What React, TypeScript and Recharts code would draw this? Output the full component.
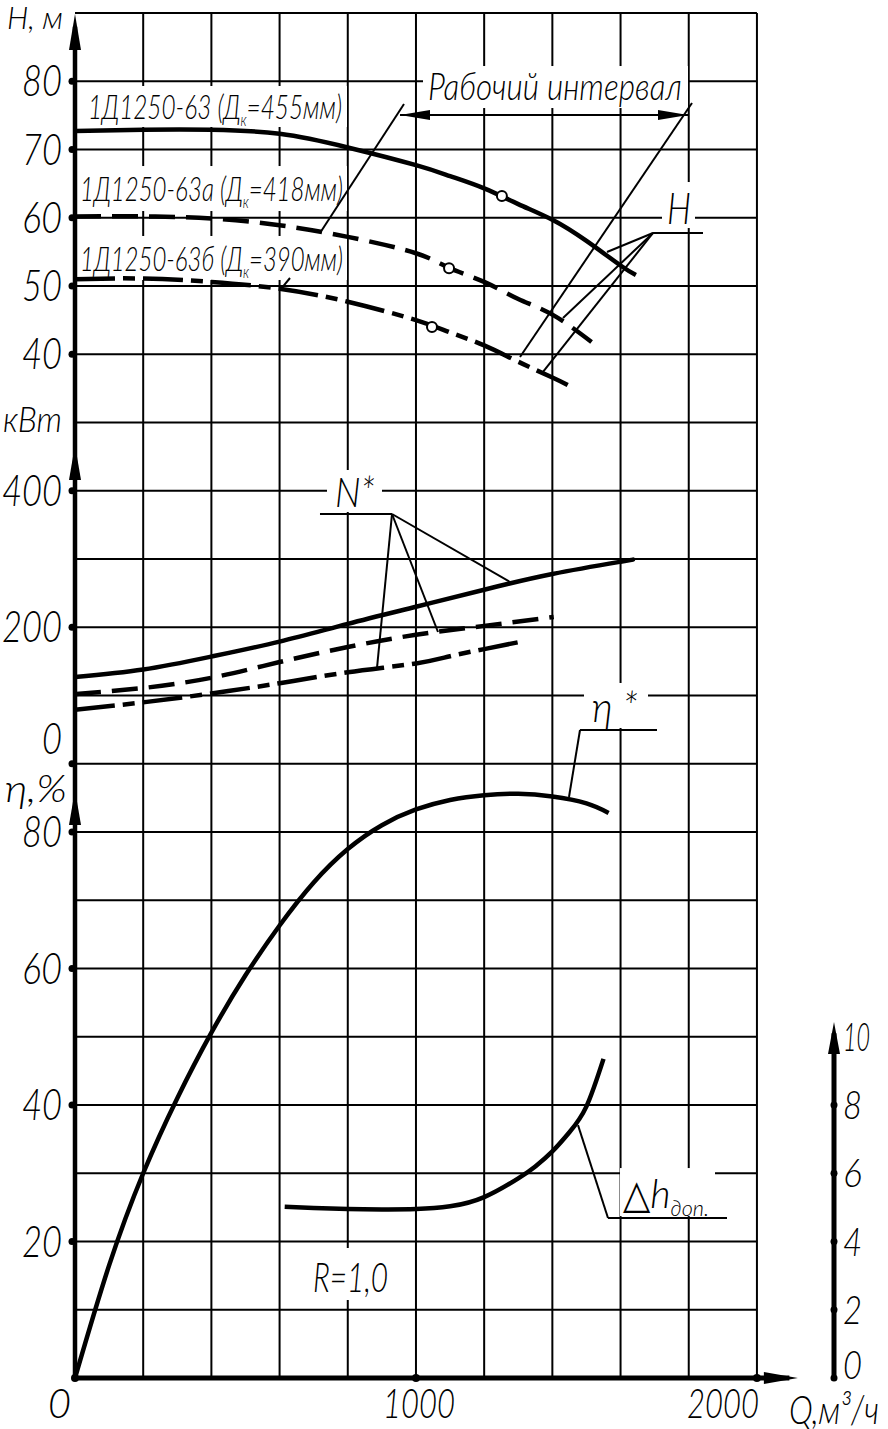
import React from 'react';
import { ComposedChart, Line, Scatter, XAxis, YAxis, ReferenceLine, ReferenceDot } from 'recharts';

const FONT = "Lato, 'DejaVu Sans Condensed', 'Liberation Sans', sans-serif";

// ось подачи, м3/ч
const Q_MAX = 2226;
const Q_TICKS = [0, 1000, 2000];
const H_TICKS = [40, 50, 60, 70, 80];
const N_TICKS = [0, 200, 400];
const ETA_TICKS = [20, 40, 60, 80];
const DH_TICKS = [0, 2, 4, 6, 8, 10];

// напор H, м
const Q_H455 = [0, 200, 400, 600, 800, 1000, 1100, 1200, 1300, 1400, 1500, 1600, 1645];
const H_455 = [72.7, 72.9, 72.9, 72.3, 70.3, 67.7, 66.1, 64.3, 62.0, 59.7, 56.6, 53.0, 51.6];
const Q_H418 = [0, 200, 400, 600, 800, 1000, 1100, 1200, 1300, 1400, 1515];
const H_418 = [60.2, 60.2, 59.9, 58.9, 57.2, 54.8, 52.6, 50.6, 48.1, 45.8, 41.8];
const Q_H390 = [0, 200, 400, 600, 800, 1000, 1100, 1200, 1300, 1400, 1445];
const H_390 = [51.0, 51.1, 50.6, 49.6, 47.7, 45.0, 43.2, 41.3, 38.9, 36.6, 35.5];
const Q_RATED = [1252, 1097, 1047];
const H_RATED = [63.2, 52.6, 44.0];

// мощность N, кВт
const Q_N455 = [0, 200, 400, 600, 800, 1000, 1200, 1400, 1600, 1635];
const N_455 = [127, 138, 157, 179, 205, 230, 255, 278, 296, 299];
const Q_N418 = [0, 200, 400, 600, 800, 1000, 1200, 1404];
const N_418 = [102, 111, 126, 149, 171, 189, 202, 215];
const Q_N390 = [0, 200, 400, 600, 800, 1000, 1100, 1200, 1300];
const N_390 = [79, 90, 103, 118, 134, 147, 157.5, 168, 178];

// КПД, %
const Q_ETA = [0, 100, 200, 300, 400, 500, 600, 700, 800, 900, 1000, 1100, 1200, 1300, 1400, 1500, 1565];
const ETA = [0, 16.5, 30, 41, 50.6, 59, 66.3, 72.6, 77.5, 81, 83.3, 84.7, 85.4, 85.6, 85.2, 84.2, 82.8];

// допустимый кавитационный запас, м
const Q_DH = [615, 700, 800, 900, 1000, 1100, 1200, 1300, 1350, 1400, 1450, 1500, 1550];
const DH = [5.02, 4.98, 4.95, 4.94, 4.95, 5.03, 5.3, 5.85, 6.2, 6.64, 7.2, 7.96, 9.35];

const pairs = (qs: number[], vs: number[]) => qs.map((q, i) => ({ q, v: vs[i] }));

// сетка: 200 м3/ч по Q, 10% по КПД
const GRID_Q = Array.from({ length: 10 }, (_, i) => (i + 1) * 200);
const GRID_E = Array.from({ length: 20 }, (_, i) => (i + 1) * 10);

type Part = { t: string; sub?: boolean };
type NoteDef = { axis: string; q: number; v: number; parts: Part[]; size: number; len?: number; box?: number[] };

const NOTES: NoteDef[] = [
  { axis: 'H', q: 38.1, v: 74.47, parts: [{ t: '1Д1250-63 (Д' }, { t: 'к', sub: true }, { t: '=455мм)' }], size: 33, len: 254, box: [-6, -33, 265, 41] },
  { axis: 'H', q: 14.7, v: 62.45, parts: [{ t: '1Д1250-63а (Д' }, { t: 'к', sub: true }, { t: '=418мм)' }], size: 33, len: 263, box: [-3, -35, 270, 45] },
  { axis: 'H', q: 14.7, v: 52.2, parts: [{ t: '1Д1250-63б (Д' }, { t: 'к', sub: true }, { t: '=390мм)' }], size: 33, len: 263, box: [-3, -35, 270, 44] },
  { axis: 'H', q: 1035.3, v: 77.25, parts: [{ t: 'Рабочий интервал' }], size: 38, len: 254, box: [-5, -34, 265, 42] },
  { axis: 'H', q: 1736.2, v: 59.08, parts: [{ t: 'H' }], size: 44, len: 24, box: [-5, -42, 33, 46] },
  { axis: 'N', q: 762.5, v: 376.2, parts: [{ t: 'N*' }], size: 42, len: 40, box: [-8, -37, 55, 42] },
  { axis: 'E', q: 1516.3, v: 96.12, parts: [{ t: 'η *' }], size: 42, len: 46, box: [-8, -39, 64, 45] },
  { axis: 'D', q: 1607.2, v: 4.98, parts: [{ t: '△' }, { t: 'h' }, { t: 'доп.', sub: true }], size: 40, len: 86, box: [-3, -40, 95, 48] },
  { axis: 'E', q: 698, v: 12.6, parts: [{ t: 'R=1,0' }], size: 42, len: 75, box: [-8, -44, 90, 52] },
  // подписи осей
  { axis: 'H', q: -199.4, v: 87.6, parts: [{ t: 'H, м' }], size: 32, len: 56 },
  { axis: 'N', q: -211.2, v: 486.1, parts: [{ t: 'кВт' }], size: 36, len: 59 },
  { axis: 'E', q: -205.3, v: 84.4, parts: [{ t: 'η,%' }], size: 38, len: 62 },
  { axis: 'E', q: 2094, v: -6.74, parts: [{ t: 'Q,м³/ч' }], size: 40, len: 90 },
];

// выноски и границы рабочего интервала
const LEADERS: { axis: string; pts: number[][] }[] = [
  { axis: 'H', pts: [[964.9, 76.67], [718.5, 57.77]] },
  { axis: 'H', pts: [[1809.5, 76.81], [1305.1, 39.6]] },
  { axis: 'H', pts: [[953.2, 75.05], [1797.8, 75.05]] },
  { axis: 'H', pts: [[1695.2, 57.77], [1841.8, 57.77]] },
  { axis: 'H', pts: [[1695.2, 57.77], [1560.2, 54.98]] },
  { axis: 'H', pts: [[1695.2, 57.77], [1431.2, 45.31]] },
  { axis: 'H', pts: [[1695.2, 57.77], [1372.6, 37.4]] },
  { axis: 'H', pts: [[630.6, 51.17], [601.2, 49.41]] },
  { axis: 'N', pts: [[718.5, 365.93], [929.7, 365.93]] },
  { axis: 'N', pts: [[929.7, 365.93], [1275.8, 266.3]] },
  { axis: 'N', pts: [[929.7, 365.93], [1064.6, 193.04]] },
  { axis: 'N', pts: [[929.7, 365.93], [885.7, 140.29]] },
  { axis: 'E', pts: [[1481.1, 94.95], [1706.9, 94.95]] },
  { axis: 'E', pts: [[1481.1, 94.95], [1448.8, 85.13]] },
  { axis: 'D', pts: [[1563.2, 4.69], [1912.2, 4.69]] },
  { axis: 'D', pts: [[1563.2, 4.69], [1475.2, 7.41]] },
];

const ARROWS = [
  { axis: 'H', q: 0, v: 89.85, dir: 'up', len: 36, half: 6 },
  { axis: 'N', q: 0, v: 467, dir: 'up', len: 35, half: 6 },
  { axis: 'E', q: 0, v: 86.15, dir: 'up', len: 35, half: 6 },
  { axis: 'E', q: 2120, v: 0, dir: 'right', len: 34, half: 6 },
  { axis: 'D', q: Q_MAX, v: 10.43, dir: 'up', len: 32, half: 6 },
  { axis: 'H', q: 953.2, v: 75.05, dir: 'left', len: 30, half: 5 },
  { axis: 'H', q: 1797.8, v: 75.05, dir: 'right', len: 30, half: 5 },
];

const Note = ({ cx, cy, n }: any) => {
  const d = n.size * 0.2;
  let shift = 0;
  return (
    <g>
      {n.box && <rect x={cx + n.box[0]} y={cy + n.box[1]} width={n.box[2]} height={n.box[3]} fill="#fff" />}
      <text x={cx} y={cy} fontFamily={FONT} fontStyle="italic" fontWeight={300} fontSize={n.size} fill="#000"
        textLength={n.len} lengthAdjust={n.len ? 'spacingAndGlyphs' : undefined}>
        {n.parts.map((p: Part, i: number) => {
          const target = p.sub ? d : 0;
          const dy = target - shift;
          shift = target;
          return (
            <tspan key={i} dy={dy} fontSize={p.sub ? n.size * 0.55 : n.size}
              fontStyle={p.t === '△' ? 'normal' : 'italic'}>{p.t}</tspan>
          );
        })}
      </text>
    </g>
  );
};

const Arrow = ({ cx, cy, dir, len, half }: any) => {
  let pts = '';
  if (dir === 'up') pts = `${cx},${cy} ${cx - half},${cy + len} ${cx + half},${cy + len}`;
  if (dir === 'right') pts = `${cx},${cy} ${cx - len},${cy - half} ${cx - len},${cy + half}`;
  if (dir === 'left') pts = `${cx},${cy} ${cx + len},${cy - half} ${cx + len},${cy + half}`;
  return <polygon points={pts} fill="#000" />;
};

const textProps = { fontFamily: FONT, fontStyle: 'italic', fontWeight: 300, fill: '#000' } as const;
const digitsLen = (v: number, w: number) => String(v).length * w;

const LeftTick = ({ cx, cy, v }: any) => {
  const lift = v === 0 ? 25 : 0;
  return (
    <g>
      <circle cx={cx - 3} cy={cy} r={3.5} fill="#000" />
      <text x={cx - 13} y={cy - lift + 15} textAnchor="end" fontSize={43} textLength={digitsLen(v, 20)}
        lengthAdjust="spacingAndGlyphs" {...textProps}>{v}</text>
    </g>
  );
};

const RightTick = ({ cx, cy, v }: any) => (
  <g>
    {v < 10 && <circle cx={cx} cy={cy} r={3.5} fill="#000" />}
    <text x={cx + 9} y={cy - (v === 0 ? 13 : 0) + 14} textAnchor="start" fontSize={40} textLength={v === 10 ? 27 : 19}
      lengthAdjust="spacingAndGlyphs" {...textProps}>{v}</text>
  </g>
);

const BottomTick = ({ cx, cy, v }: any) => {
  const anchor = v === 1000 ? 'middle' : 'end';
  const tx = v === 0 ? cx - 4 : v === 2000 ? cx + 2 : cx + 3;
  return (
    <g>
      <circle cx={cx} cy={cy} r={4} fill="#000" />
      <text x={tx} y={cy + 40} textAnchor={anchor} fontSize={42} textLength={v === 0 ? 23 : digitsLen(v, 18)}
        lengthAdjust="spacingAndGlyphs" {...textProps}>{v}</text>
    </g>
  );
};

const ratedDot = (p: any) => <circle cx={p.cx} cy={p.cy} r={5} fill="#fff" stroke="#000" strokeWidth={2} />;

const curve = { type: 'natural' as const, stroke: '#000', strokeWidth: 4.5, dot: false, isAnimationActive: false };

export default function App() {
  return (
    <div style={{ position: 'absolute', left: 0, top: 0, background: '#fff' }}>
      <ComposedChart width={888} height={1429} margin={{ top: 13, right: 54, bottom: 51, left: 75 }}>
        <XAxis dataKey="q" type="number" domain={[0, Q_MAX]} allowDataOverflow hide />
        <YAxis yAxisId="H" type="number" domain={[-110, 90]} allowDataOverflow hide />
        <YAxis yAxisId="N" type="number" domain={[-900, 1100]} allowDataOverflow hide />
        <YAxis yAxisId="E" type="number" domain={[0, 200]} allowDataOverflow hide />
        <YAxis yAxisId="D" orientation="right" type="number" domain={[0, 40]} allowDataOverflow hide />

        {GRID_Q.map((q) => (
          <ReferenceLine key={'gq' + q} yAxisId="E" segment={[{ x: q, y: 0 }, { x: q, y: 200 }]}
            stroke="#000" strokeWidth={2} ifOverflow="visible" zIndex={-50} />
        ))}
        {GRID_E.map((e) => (
          <ReferenceLine key={'ge' + e} yAxisId="E" segment={[{ x: 0, y: e }, { x: 2000, y: e }]}
            stroke="#000" strokeWidth={2} ifOverflow="visible" zIndex={-50} />
        ))}

        {NOTES.map((n, i) => (
          <ReferenceDot key={'n' + i} yAxisId={n.axis} x={n.q} y={n.v} r={0} ifOverflow="visible" zIndex={-40}
            shape={(p: any) => <Note cx={p.cx} cy={p.cy} n={n} />} />
        ))}

        {LEADERS.map((l, i) => (
          <ReferenceLine key={'l' + i} yAxisId={l.axis} segment={[{ x: l.pts[0][0], y: l.pts[0][1] }, { x: l.pts[1][0], y: l.pts[1][1] }]}
            stroke="#000" strokeWidth={2} ifOverflow="visible" zIndex={-30} />
        ))}

        <Line data={pairs(Q_H455, H_455)} dataKey="v" yAxisId="H" {...curve} />
        <Line data={pairs(Q_H418, H_418)} dataKey="v" yAxisId="H" {...curve} strokeDasharray="26 11" />
        <Line data={pairs(Q_H390, H_390)} dataKey="v" yAxisId="H" {...curve} strokeDasharray="40 8 12 8" />
        <Line data={pairs(Q_N455, N_455)} dataKey="v" yAxisId="N" {...curve} />
        <Line data={pairs(Q_N418, N_418)} dataKey="v" yAxisId="N" {...curve} strokeDasharray="26 11" />
        <Line data={pairs(Q_N390, N_390)} dataKey="v" yAxisId="N" {...curve} strokeDasharray="40 8 12 8" />
        <Line data={pairs(Q_ETA, ETA)} dataKey="v" yAxisId="E" {...curve} />
        <Line data={pairs(Q_DH, DH)} dataKey="v" yAxisId="D" {...curve} />
        <Scatter data={pairs(Q_RATED, H_RATED)} dataKey="v" yAxisId="H" shape={ratedDot} isAnimationActive={false} />

        <ReferenceLine yAxisId="E" segment={[{ x: 0, y: 0 }, { x: 0, y: 198 }]} stroke="#000" strokeWidth={4.5} ifOverflow="visible" zIndex={700} />
        <ReferenceLine yAxisId="E" segment={[{ x: 0, y: 0 }, { x: 2095, y: 0 }]} stroke="#000" strokeWidth={5} ifOverflow="visible" zIndex={700} />
        <ReferenceLine yAxisId="D" segment={[{ x: Q_MAX, y: 0 }, { x: Q_MAX, y: 10.1 }]} stroke="#000" strokeWidth={5} ifOverflow="visible" zIndex={700} />
        {ARROWS.map((a, i) => (
          <ReferenceDot key={'a' + i} yAxisId={a.axis} x={a.q} y={a.v} r={0} ifOverflow="visible" zIndex={700}
            shape={(p: any) => <Arrow cx={p.cx} cy={p.cy} dir={a.dir} len={a.len} half={a.half} />} />
        ))}

        {H_TICKS.map((v) => (
          <ReferenceDot key={'th' + v} yAxisId="H" x={0} y={v} r={0} ifOverflow="visible" zIndex={700}
            shape={(p: any) => <LeftTick cx={p.cx} cy={p.cy} v={v} />} />
        ))}
        {N_TICKS.map((v) => (
          <ReferenceDot key={'tn' + v} yAxisId="N" x={0} y={v} r={0} ifOverflow="visible" zIndex={700}
            shape={(p: any) => <LeftTick cx={p.cx} cy={p.cy} v={v} />} />
        ))}
        {ETA_TICKS.map((v) => (
          <ReferenceDot key={'te' + v} yAxisId="E" x={0} y={v} r={0} ifOverflow="visible" zIndex={700}
            shape={(p: any) => <LeftTick cx={p.cx} cy={p.cy} v={v} />} />
        ))}
        {DH_TICKS.map((v) => (
          <ReferenceDot key={'td' + v} yAxisId="D" x={Q_MAX} y={v} r={0} ifOverflow="visible" zIndex={700}
            shape={(p: any) => <RightTick cx={p.cx} cy={p.cy} v={v} />} />
        ))}
        {Q_TICKS.map((v) => (
          <ReferenceDot key={'tq' + v} yAxisId="E" x={v} y={0} r={0} ifOverflow="visible" zIndex={700}
            shape={(p: any) => <BottomTick cx={p.cx} cy={p.cy} v={v} />} />
        ))}
      </ComposedChart>
    </div>
  );
}
